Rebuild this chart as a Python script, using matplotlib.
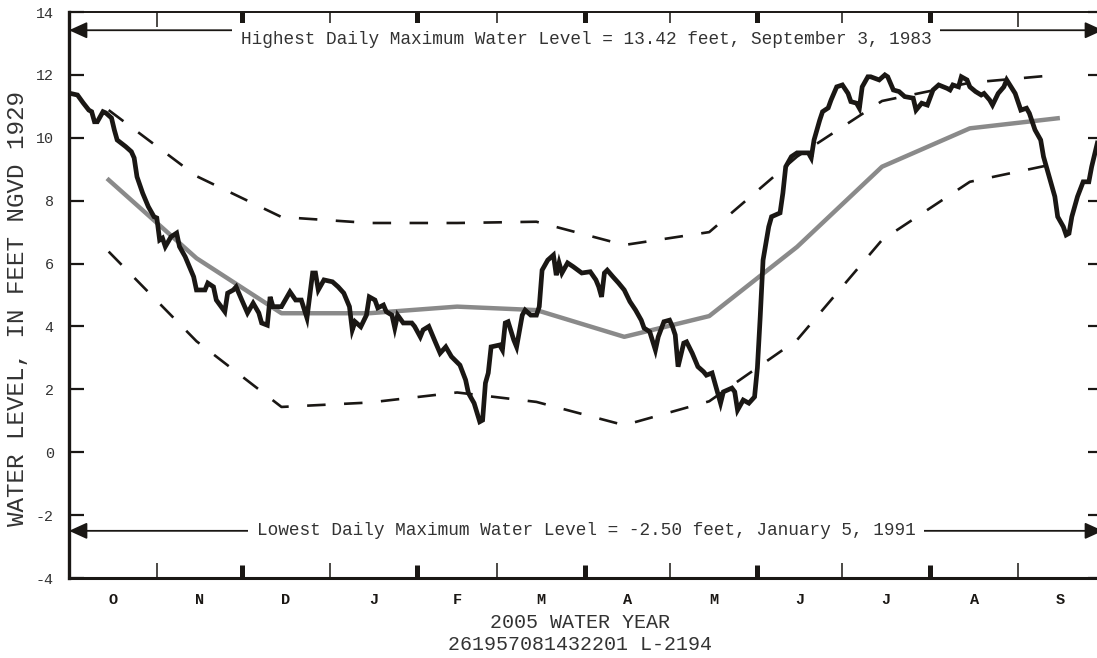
import numpy as np
import matplotlib
matplotlib.use('Agg')
import matplotlib.pyplot as plt

plt.rcParams['font.family'] = ['Liberation Mono', 'DejaVu Sans Mono']
plt.rcParams['axes.unicode_minus'] = False

# water year 2005, day 0 = Oct 1
months = ['O', 'N', 'D', 'J', 'F', 'M', 'A', 'M', 'J', 'J', 'A', 'S']
month_len = [31, 30, 31, 31, 28, 31, 30, 31, 30, 31, 31, 30]

# daily maximum water level
days = [0, 3, 5, 7, 8, 9, 10, 12, 13, 15,
        16, 17, 20, 22, 23, 24, 26, 28, 30, 31,
        32, 33, 34, 36, 38, 39, 41, 44, 45, 48,
        49, 51, 52, 55, 56, 58, 59, 61, 63, 65,
        67, 68, 70, 71, 72, 75, 78, 80, 82, 84,
        86, 87, 88, 90, 93, 95, 97, 99, 100, 101,
        103, 105, 106, 108, 109, 111, 112, 114, 115, 116,
        118, 121, 122, 124, 125, 127, 129, 131, 133, 135,
        138, 140, 141, 143, 145, 146, 147, 148, 149, 152,
        153, 154, 155, 157, 158, 160, 161, 163, 165, 166,
        167, 169, 171, 172, 173, 174, 176, 178, 181, 184,
        186, 187, 188, 189, 190, 192, 194, 196, 198, 200,
        202, 203, 205, 207, 208, 210, 212, 213, 214, 215,
        217, 218, 220, 222, 224, 225, 227, 228, 230, 231,
        234, 235, 236, 238, 240, 242, 243, 244, 245, 247,
        248, 251, 252, 253, 255, 257, 261, 262, 263, 265,
        266, 268, 269, 271, 273, 275, 276, 278, 279, 280,
        282, 283, 286, 288, 289, 291, 293, 295, 298, 299,
        301, 303, 305, 307, 310, 311, 312, 314, 315, 317,
        318, 320, 322, 323, 325, 326, 328, 330, 331, 334,
        336, 338, 339, 341, 343, 344, 346, 348, 349, 351,
        352, 353, 354, 356, 358, 360, 361, 363]
level = [11.42, 11.36, 11.11, 10.88, 10.83, 10.51, 10.51, 10.83, 10.79, 10.63,
         10.25, 9.93, 9.72, 9.56, 9.36, 8.76, 8.24, 7.81, 7.49, 7.45,
         6.75, 6.81, 6.54, 6.85, 6.97, 6.54, 6.22, 5.58, 5.16, 5.16,
         5.38, 5.26, 4.84, 4.47, 5.06, 5.16, 5.26, 4.84, 4.43, 4.74,
         4.43, 4.11, 4.04, 4.94, 4.63, 4.63, 5.10, 4.84, 4.84, 4.27,
         5.70, 5.70, 5.16, 5.48, 5.42, 5.26, 5.06, 4.63, 3.89, 4.15,
         3.99, 4.36, 4.94, 4.84, 4.59, 4.68, 4.47, 4.36, 3.95, 4.36,
         4.11, 4.11, 4.00, 3.67, 3.89, 4.00, 3.57, 3.15, 3.35, 3.04,
         2.77, 2.30, 1.88, 1.56, 0.97, 1.02, 2.20, 2.52, 3.35, 3.41,
         3.25, 4.11, 4.15, 3.57, 3.35, 4.36, 4.52, 4.36, 4.36, 4.63,
         5.79, 6.11, 6.27, 5.63, 6.02, 5.70, 6.02, 5.90, 5.70, 5.74,
         5.48, 5.26, 4.94, 5.70, 5.79, 5.58, 5.38, 5.16, 4.79, 4.52,
         4.20, 3.95, 3.83, 3.25, 3.67, 4.15, 4.20, 4.00, 3.73, 2.72,
         3.47, 3.51, 3.15, 2.72, 2.56, 2.45, 2.52, 2.20, 1.56, 1.92,
         2.04, 1.92, 1.34, 1.66, 1.56, 1.76, 2.68, 4.31, 6.11, 7.17,
         7.49, 7.61, 8.24, 9.08, 9.40, 9.52, 9.52, 9.36, 9.93, 10.56,
         10.83, 10.95, 11.20, 11.62, 11.68, 11.41, 11.15, 11.10, 10.94, 11.62,
         11.94, 11.94, 11.84, 12.00, 11.94, 11.52, 11.47, 11.31, 11.26, 10.88,
         11.10, 11.04, 11.52, 11.68, 11.57, 11.52, 11.68, 11.62, 11.94, 11.84,
         11.62, 11.47, 11.36, 11.41, 11.20, 11.04, 11.41, 11.62, 11.84, 11.41,
         10.88, 10.94, 10.78, 10.25, 9.93, 9.40, 8.76, 8.13, 7.49, 7.17,
         6.91, 6.96, 7.49, 8.13, 8.60, 8.60, 9.08, 9.83]

# monthly statistics, plotted at mid-month
stat_median = [8.66, 6.17, 4.42, 4.42, 4.63, 4.52, 3.67, 4.33, 6.53, 9.08, 10.30, 10.62]
stat_upper = [10.88, 8.78, 7.48, 7.29, 7.29, 7.33, 6.59, 7.00, 9.40, 11.17, 11.75, 12.00]
stat_lower = [6.38, 3.53, 1.44, 1.58, 1.90, 1.60, 0.86, 1.62, 3.57, 6.75, 8.60, 9.19]

record_high = 13.42
record_low = -2.50
high_text = 'Highest Daily Maximum Water Level = 13.42 feet, September 3, 1983'
low_text = 'Lowest Daily Maximum Water Level = -2.50 feet, January 5, 1991'

ink = '#1a1714'
month_start = np.concatenate([[0], np.cumsum(month_len)[:-1]])
month_mid = month_start + 14
month_center = month_start + np.array(month_len) / 2.0

fig = plt.figure(figsize=(10.97, 6.58), dpi=100)
ax = fig.add_axes([69 / 1097, 80 / 658, 1034 / 1097, 566 / 658])

ax.plot(month_mid, stat_upper, color=ink, lw=1.9, dashes=(7, 7))
ax.plot(month_mid, stat_lower, color=ink, lw=1.9, dashes=(7, 7))
ax.plot(month_mid, stat_median, color='#8a8a8a', lw=3.2)
ax.plot(days, level, color=ink, lw=3.4, solid_joinstyle='miter')

ax.set_xlim(0, 365)
ax.set_ylim(-4, 14)

# record arrows
for val, txt, dy in [(record_high, high_text, -7), (record_low, low_text, 0)]:
    ax.annotate('', xy=(0, val), xytext=(365, val),
                arrowprops=dict(arrowstyle='<|-|>,head_length=0.55,head_width=0.25',
                                mutation_scale=20, color=ink, lw=1.3,
                                shrinkA=0, shrinkB=0), zorder=2.0)
    ax.annotate(txt, xy=(182.5, val), xytext=(0, dy), textcoords='offset points',
                ha='center', va='center', fontsize=12.8, color='#333333',
                bbox=dict(boxstyle='square,pad=0.5', fc='white', ec='none'),
                zorder=2.2)

ax.set_yticks(np.arange(-4, 15, 2))
ax.tick_params(axis='y', direction='in', length=10.8, width=1.6, color=ink,
               labelsize=10.8, labelcolor='#333333', pad=11, right=True)

thick = [month_start[i] for i in range(2, 12, 2)]
thin = [month_start[i] for i in range(1, 12, 2)]
ax.set_xticks(thick)
ax.set_xticks(thin, minor=True)
ax.tick_params(axis='x', which='major', direction='in', length=9.5, width=3.6,
               color=ink, top=True, bottom=True, labelbottom=False)
ax.tick_params(axis='x', which='minor', direction='in', length=10.5, width=1.1,
               color=ink, top=True, bottom=True)

for m, c in zip(months, month_center):
    ax.text(c, -0.039, m, transform=ax.get_xaxis_transform(), ha='center',
            va='center', fontsize=11, fontweight='bold', color=ink)

ax.spines['right'].set_visible(False)
ax.spines['left'].set_linewidth(2.4)
ax.spines['bottom'].set_linewidth(2.2)
ax.spines['top'].set_linewidth(1.4)
for s in ax.spines.values():
    s.set_color(ink)

fig.text(580 / 1097, 1 - 622 / 658, '2005 WATER YEAR', ha='center', va='center',
         fontsize=14.4, color='#333333')
fig.text(580 / 1097, 1 - 645 / 658, '261957081432201 L-2194', ha='center', va='center',
         fontsize=14.4, color='#333333')
fig.text(18 / 1097, 1 - 309 / 658, 'WATER LEVEL, IN FEET NGVD 1929', rotation=90,
         ha='center', va='center', fontsize=17.5, color='#333333')

fig.savefig('out.png', dpi=100)
